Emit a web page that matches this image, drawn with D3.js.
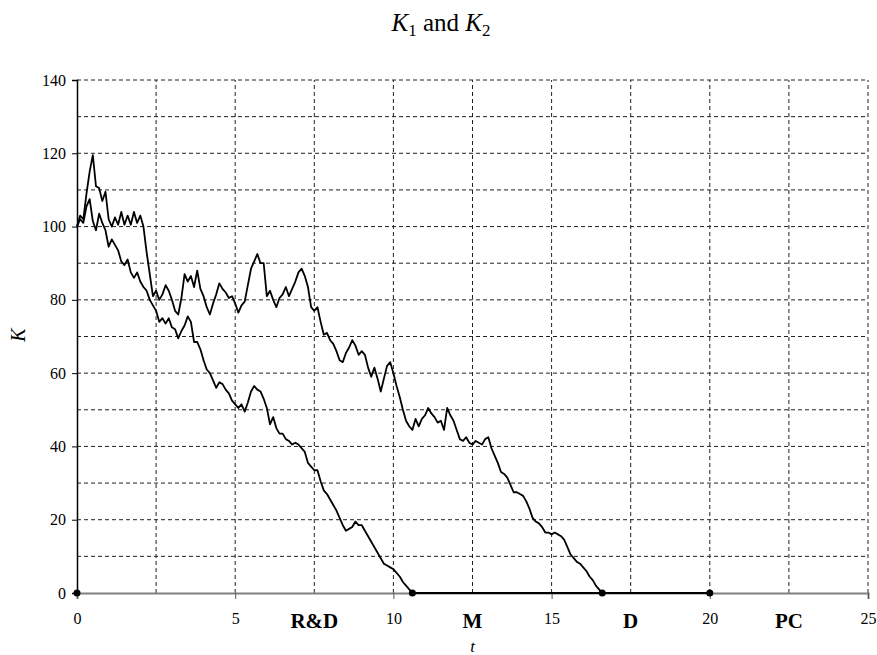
<!DOCTYPE html>
<html>
<head>
<meta charset="utf-8">
<script src="https://cdn.jsdelivr.net/npm/d3@7"></script>
<style>
  body { margin: 0; background: #fff; }
  text { font-family: "Liberation Serif", "DejaVu Serif", serif; }
</style>
</head>
<body>
<div id="chart"></div>
<script>
// sample spacing of both paths (in t)
var step = 0.1;

// K1, every 0.1 from t = 0 until it hits 0
var k1Values = [
  100, 102, 101, 105.5, 107.5, 101.5, 99, 103.5, 101, 99,
  94.5, 96.5, 95, 93.5, 90.5, 89.5, 91, 87.5, 86, 87.5,
  85, 83.5, 82.5, 80, 78.5, 77, 74, 75, 73.5, 75,
  72.5, 72, 69.5, 71.5, 73, 75.5, 74, 68.5, 68.5, 66.5,
  63.5, 61, 60, 58, 56, 57.5, 57, 55.5, 54.5, 52.5,
  51.5, 50.5, 51.5, 49.5, 52, 55, 56.5, 55.5, 55, 53,
  50.5, 46, 48, 45, 43.5, 43.5, 42, 41.5, 40.5, 41,
  40.5, 39.5, 38.5, 35.5, 34.5, 33.5, 33.5, 30.5, 28, 27,
  25.5, 24, 22.5, 20.5, 18.5, 17, 17.5, 18, 19.5, 18.5,
  18.5, 17, 15.5, 14, 12.5, 11, 9.5, 8, 7.5, 7,
  6.5, 5.5, 4.5, 3, 2, 1, 0
];

// K2, same spacing
var k2Values = [
  100, 103, 102, 109, 115, 119.5, 111, 110.5, 107, 109.5,
  102, 100, 102.5, 100.5, 104, 100.5, 103, 100.5, 104, 101,
  103, 100, 93, 87, 81, 82.5, 80, 81.5, 84, 82.5,
  80, 77, 76, 80.5, 87, 85, 86.5, 83.5, 88, 83,
  81, 78, 76, 79, 81.5, 84.5, 83, 82, 80.5, 81,
  79, 76.5, 78.5, 79.5, 84, 88.5, 90.5, 92.5, 90, 90,
  81, 82.5, 80, 78, 80.5, 81.5, 83.5, 81, 83, 85,
  87.5, 88.5, 86.5, 83.5, 78, 77, 78, 74, 70.5, 71,
  69, 68, 66, 63.5, 63, 65.5, 67, 69, 67.5, 65,
  66, 65, 61.5, 59, 61.5, 58.5, 55, 58.5, 62, 63,
  60, 56.5, 53.5, 50, 47, 45.5, 44.5, 47.5, 45.5, 47.5,
  48.5, 50.5, 49, 48, 46.5, 47, 44.5, 50.5, 48.5, 47,
  44.5, 42, 41.5, 42.5, 41, 40.5, 41.5, 41, 40.5, 42,
  42.5, 39.5, 37.5, 35.5, 33, 32.5, 31.5, 29.5, 27.5, 27.5,
  27, 26.5, 25, 23, 20.5, 19.5, 19, 18, 16.5, 16.5,
  16, 16.5, 16, 15.5, 14.5, 12.5, 10.5, 9.5, 8.5, 8,
  7, 6, 4.5, 3.5, 2, 1, 0
];

var horizon = 20;
var xTicks = [0, 5, 10, 15, 20, 25];
var yTicks = [0, 20, 40, 60, 80, 100, 120, 140];
var phaseNames = ['R&D', 'M', 'D', 'PC'];
var phaseCenters = [7.5, 12.5, 17.5, 22.5];

var width = 877, height = 655;
var plotLeft = 77, plotRight = 868, plotTop = 80, plotBottom = 593;

var svg = d3.select('#chart')
	.append('svg')
	.attr('width', width)
	.attr('height', height);

var x = d3.scaleLinear().domain([0, 25]).range([plotLeft, plotRight]);
var y = d3.scaleLinear().domain([0, 140]).range([plotBottom, plotTop]);

// dashed grid
svg.append('g')
	.selectAll('line')
	.data(d3.range(2.5, 25.01, 2.5))
	.enter()
	.append('line')
	.attr('x1', function (d) { return x(d); })
	.attr('x2', function (d) { return x(d); })
	.attr('y1', y(0))
	.attr('y2', y(140))
	.attr('stroke', '#222')
	.attr('stroke-width', 1)
	.attr('stroke-dasharray', '4,3');

svg.append('g')
	.selectAll('line')
	.data(d3.range(10, 140.1, 10))
	.enter()
	.append('line')
	.attr('x1', x(0))
	.attr('x2', x(25))
	.attr('y1', function (d) { return y(d); })
	.attr('y2', function (d) { return y(d); })
	.attr('stroke', '#222')
	.attr('stroke-width', 1)
	.attr('stroke-dasharray', '4,3');

// axes
var yAxis = svg.append('g')
	.attr('transform', 'translate(' + plotLeft + ',0)')
	.call(d3.axisLeft(y).tickValues(yTicks).tickSize(5).tickPadding(6));
yAxis.select('.domain').attr('stroke', '#000').attr('stroke-width', 1.5);
yAxis.selectAll('text').attr('font-size', 16).attr('fill', '#000')
	.attr('font-family', '"Liberation Serif", serif');

var xAxis = svg.append('g')
	.attr('transform', 'translate(0,' + plotBottom + ')')
	.call(d3.axisBottom(x).tickValues(xTicks).tickSize(6).tickPadding(14));
xAxis.select('.domain').attr('stroke', '#808080').attr('stroke-width', 2);
xAxis.selectAll('.tick line').attr('stroke', '#555');
xAxis.selectAll('text').attr('font-size', 16).attr('fill', '#000')
	.attr('font-family', '"Liberation Serif", serif');

// the two paths
var line = d3.line()
	.x(function (d, i) { return x(i * step); })
	.y(function (d) { return y(d); });

[k1Values, k2Values].forEach(function (vals) {
	svg.append('path')
		.datum(vals)
		.attr('d', line)
		.attr('fill', 'none')
		.attr('stroke', '#000')
		.attr('stroke-width', 1.8)
		.attr('stroke-linejoin', 'round');
});

// absorbed at zero until the horizon
var hitTimes = [0, (k1Values.length - 1) * step, (k2Values.length - 1) * step, horizon];

svg.append('line')
	.attr('x1', x(hitTimes[1]))
	.attr('x2', x(horizon))
	.attr('y1', y(0))
	.attr('y2', y(0))
	.attr('stroke', '#000')
	.attr('stroke-width', 2.2);

svg.append('g')
	.selectAll('circle')
	.data(hitTimes)
	.enter()
	.append('circle')
	.attr('cx', function (d) { return x(d); })
	.attr('cy', y(0))
	.attr('r', 3.5)
	.attr('fill', '#000');

// phase labels
svg.append('g')
	.selectAll('text')
	.data(phaseNames)
	.enter()
	.append('text')
	.attr('x', function (d, i) { return x(phaseCenters[i]); })
	.attr('y', 628)
	.attr('text-anchor', 'middle')
	.attr('font-size', 21)
	.attr('font-weight', 'bold')
	.text(function (d) { return d; });

// axis titles
svg.append('text')
	.attr('x', x(12.5))
	.attr('y', 652)
	.attr('text-anchor', 'middle')
	.attr('font-size', 17)
	.attr('font-style', 'italic')
	.text('t');

svg.append('text')
	.attr('transform', 'translate(25,335) rotate(-90)')
	.attr('text-anchor', 'middle')
	.attr('font-size', 20)
	.attr('font-style', 'italic')
	.text('K');

// title
var title = svg.append('text')
	.attr('x', 441)
	.attr('y', 31)
	.attr('text-anchor', 'middle')
	.attr('font-size', 25);
title.append('tspan').attr('font-style', 'italic').text('K');
title.append('tspan').attr('font-size', 17).attr('dy', 5).text('1');
title.append('tspan').attr('dy', -5).text(' and ');
title.append('tspan').attr('font-style', 'italic').text('K');
title.append('tspan').attr('font-size', 17).attr('dy', 5).text('2');
</script>
</body>
</html>
